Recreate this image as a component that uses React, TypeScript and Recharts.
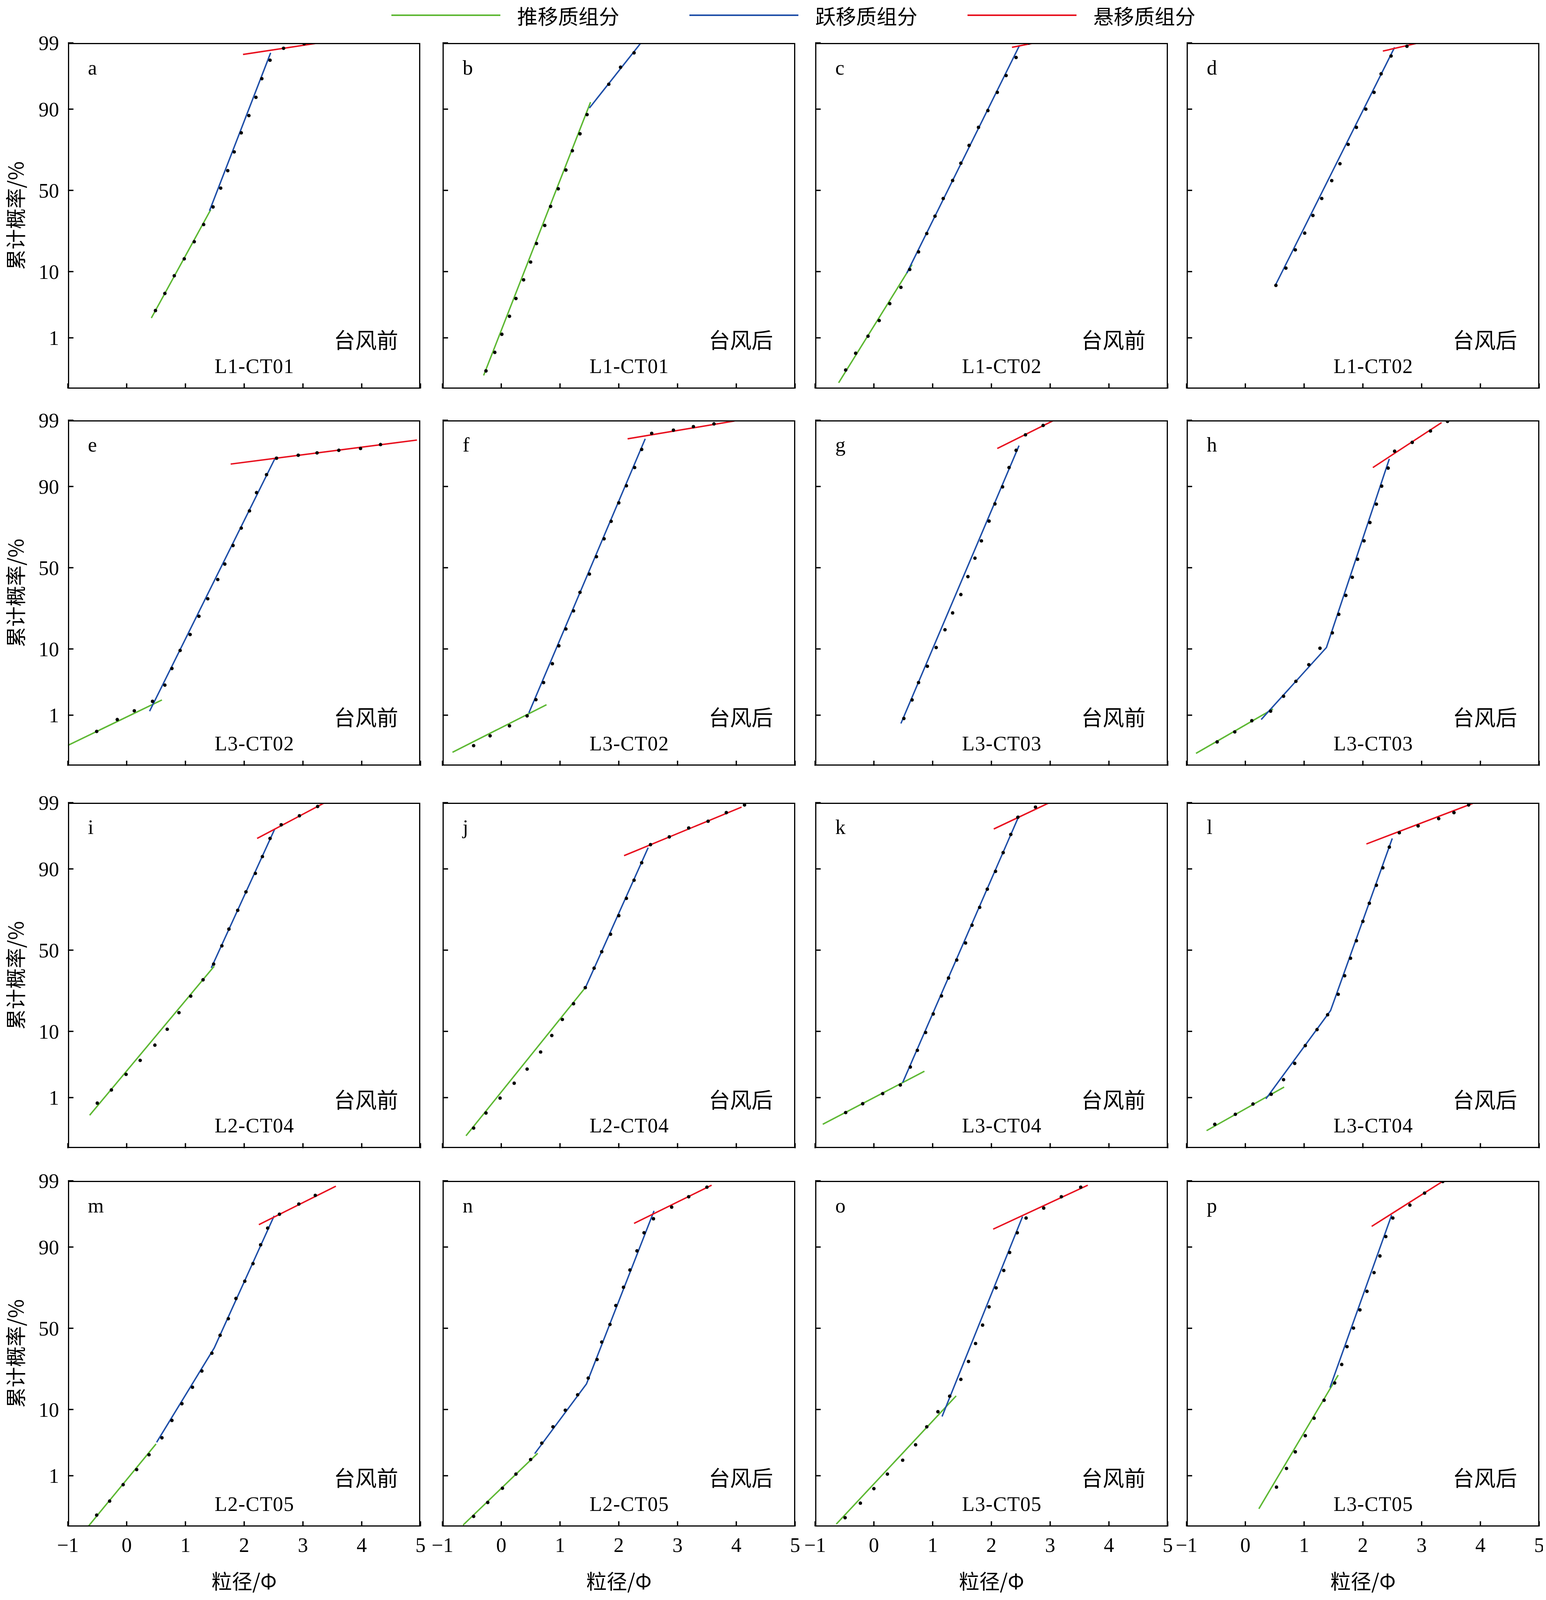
import React from 'react';
import { ComposedChart, Scatter, XAxis, YAxis } from 'recharts';

type P = [number, number]; // [phi, cumulative %]

// ---- panel data: points, then fitted green / blue / red segments ----
const aPoints: P[] = [[0.49, 2.9], [0.65, 5.2], [0.81, 8.9], [0.98, 14], [1.15, 20.9], [1.31, 29.5], [1.47, 39.7], [1.6, 51.4], [1.72, 62.2], [1.83, 72.8], [1.95, 81.8], [2.08, 88.1], [2.2, 92.9], [2.3, 96.1], [2.44, 98], [2.67, 98.75], [3.02, 98.97]];
const aGreen: P[] = [[0.42, 2.2], [1.43, 38]];
const aBlue: P[] = [[1.41, 37.4], [2.45, 98.5]];
const aRed: P[] = [[1.98, 98.4], [3.41, 99.05]];

const bPoints: P[] = [[-0.26, 0.22], [-0.11, 0.53], [0.01, 1.16], [0.14, 2.35], [0.25, 4.4], [0.38, 7.9], [0.5, 12.9], [0.6, 20.1], [0.74, 29], [0.84, 40], [0.97, 51], [1.1, 62.6], [1.21, 73.4], [1.34, 81.4], [1.46, 88.4], [1.83, 95.3], [2.03, 97.4], [2.26, 98.5]];
const bGreen: P[] = [[-0.3, 0.175], [1.52, 91.8]];
const bBlue: P[] = [[1.5, 90.3], [2.41, 99.1]];
const bRed: P[] = [];

const cPoints: P[] = [[-0.48, 0.23], [-0.31, 0.51], [-0.1, 1.07], [0.09, 2.0], [0.27, 3.7], [0.46, 6.3], [0.61, 10.6], [0.76, 16.6], [0.9, 24.8], [1.04, 34.2], [1.18, 44.9], [1.34, 56.2], [1.48, 66.6], [1.62, 76.1], [1.78, 84], [1.94, 89.6], [2.1, 93.9], [2.25, 96.5], [2.42, 98.2], [2.64, 99]];
const cGreen: P[] = [[-0.6, 0.12], [0.65, 12.1]];
const cBlue: P[] = [[0.56, 9.6], [2.48, 98.9]];
const cRed: P[] = [[2.35, 98.8], [2.95, 99.1]];

const dPoints: P[] = [[0.52, 6.7], [0.69, 11], [0.85, 17.4], [1.01, 25], [1.15, 34.6], [1.3, 44.9], [1.47, 56.1], [1.61, 66.3], [1.75, 76.6], [1.89, 84], [2.05, 90], [2.19, 93.9], [2.31, 96.7], [2.48, 98.3], [2.75, 98.85], [3.03, 99.05]];
const dGreen: P[] = [];
const dBlue: P[] = [[0.51, 6.7], [2.54, 98.8]];
const dRed: P[] = [[2.34, 98.6], [3.13, 99.1]];

const ePoints: P[] = [[-0.51, 0.49], [-0.16, 0.83], [0.13, 1.2], [0.44, 1.75], [0.65, 3.2], [0.77, 5.6], [0.91, 9.6], [1.08, 14.6], [1.23, 22.2], [1.38, 31.2], [1.55, 42.6], [1.67, 52.3], [1.81, 63.7], [1.95, 73.4], [2.09, 81.5], [2.21, 88.2], [2.38, 92.9], [2.55, 95.8], [2.92, 96.2], [3.24, 96.5], [3.61, 96.8], [3.98, 97], [4.32, 97.4]];
const eGreen: P[] = [[-1.01, 0.25], [0.6, 1.85]];
const eBlue: P[] = [[0.39, 1.18], [2.52, 95.7]];
const eRed: P[] = [[1.77, 94.9], [4.94, 97.8]];

const fPoints: P[] = [[-0.47, 0.25], [-0.19, 0.4], [0.14, 0.63], [0.44, 0.97], [0.59, 1.87], [0.72, 3.5], [0.87, 6.5], [0.98, 10.9], [1.1, 16.7], [1.23, 24.8], [1.34, 34.9], [1.5, 46], [1.62, 56.9], [1.75, 67.6], [1.87, 76.8], [2.0, 84.7], [2.13, 90.2], [2.27, 94.3], [2.39, 96.9], [2.56, 98.3], [2.93, 98.5], [3.27, 98.7], [3.62, 98.84]];
const fGreen: P[] = [[-0.83, 0.18], [0.77, 1.53]];
const fBlue: P[] = [[0.47, 1.1], [2.45, 97.9]];
const fRed: P[] = [[2.15, 97.9], [3.97, 98.97]];

const gPoints: P[] = [[0.51, 0.87], [0.65, 1.85], [0.76, 3.5], [0.91, 6.0], [1.06, 10.4], [1.21, 16.4], [1.34, 23.8], [1.48, 33.6], [1.6, 44.4], [1.72, 56], [1.83, 66.4], [1.96, 76.9], [2.06, 84.3], [2.19, 89.9], [2.3, 94.3], [2.42, 96.8], [2.58, 98.2], [2.88, 98.76]];
const gGreen: P[] = [];
const gBlue: P[] = [[0.46, 0.7], [2.47, 97.3]];
const gRed: P[] = [[2.1, 97], [3.15, 99.1]];

const hPoints: P[] = [[-0.48, 0.3], [-0.18, 0.48], [0.11, 0.79], [0.43, 1.18], [0.65, 2.13], [0.86, 3.66], [1.08, 6.3], [1.27, 10.2], [1.48, 15.2], [1.59, 23.1], [1.71, 33.1], [1.82, 44], [1.91, 55.3], [2.02, 66.4], [2.12, 76.2], [2.23, 84.2], [2.32, 90.1], [2.43, 94.2], [2.54, 96.7], [2.84, 97.6], [3.15, 98.45], [3.44, 98.95]];
const hGreen: P[] = [[-0.84, 0.17], [0.47, 1.29]];
const hBlue: P[] = [[0.27, 0.83], [1.38, 10.4], [2.45, 95.7]];
const hRed: P[] = [[2.17, 94.3], [3.34, 98.9]];

const iPoints: P[] = [[-0.5, 0.79], [-0.26, 1.37], [-0.01, 2.5], [0.23, 4.1], [0.48, 6.7], [0.69, 10.6], [0.89, 16.2], [1.09, 23.4], [1.3, 32], [1.48, 41.3], [1.62, 52.7], [1.74, 63], [1.89, 73.5], [2.03, 82.1], [2.19, 88.7], [2.31, 93], [2.44, 96.1], [2.63, 97.6], [2.94, 98.3], [3.25, 98.83]];
const iGreen: P[] = [[-0.63, 0.46], [1.49, 40]];
const iBlue: P[] = [[1.44, 39], [2.52, 97.2]];
const iRed: P[] = [[2.22, 96.1], [3.37, 99]];

const jPoints: P[] = [[-0.47, 0.25], [-0.26, 0.51], [-0.02, 0.98], [0.22, 1.79], [0.44, 3.03], [0.67, 5.4], [0.86, 8.9], [1.04, 13.7], [1.23, 19.9], [1.43, 27.7], [1.58, 38.8], [1.71, 49], [1.86, 59.9], [2.0, 70.7], [2.13, 79.3], [2.26, 86.5], [2.39, 91.6], [2.54, 95.2], [2.86, 96.3], [3.19, 97.3], [3.52, 97.9], [3.83, 98.5], [4.14, 98.9]];
const jGreen: P[] = [[-0.6, 0.17], [1.43, 27.7]];
const jBlue: P[] = [[1.43, 27.5], [2.5, 94.7]];
const jRed: P[] = [[2.09, 93.2], [4.09, 98.8]];

const kPoints: P[] = [[-0.48, 0.52], [-0.19, 0.77], [0.15, 1.18], [0.45, 1.67], [0.62, 3.26], [0.74, 5.7], [0.88, 9.7], [1.01, 15.7], [1.15, 23.5], [1.27, 33], [1.41, 43.8], [1.56, 54.5], [1.67, 65.3], [1.8, 75], [1.93, 83.2], [2.07, 89.3], [2.2, 93.8], [2.33, 96.6], [2.45, 98.2], [2.75, 98.8]];
const kGreen: P[] = [[-0.87, 0.3], [0.86, 2.8]];
const kBlue: P[] = [[0.49, 1.84], [2.47, 98.3]];
const kRed: P[] = [[2.04, 97.2], [3.04, 99.06]];

const lPoints: P[] = [[-0.52, 0.3], [-0.17, 0.48], [0.13, 0.76], [0.44, 1.15], [0.65, 2.05], [0.84, 3.7], [1.02, 6.6], [1.22, 10.5], [1.4, 15.4], [1.58, 24.3], [1.69, 34.3], [1.79, 44.9], [1.89, 55.9], [2.0, 67.5], [2.11, 77], [2.23, 84.7], [2.34, 90.3], [2.45, 94.8], [2.62, 96.8], [2.94, 97.5], [3.29, 98.1], [3.55, 98.5], [3.8, 98.9]];
const lGreen: P[] = [[-0.66, 0.22], [0.66, 1.54]];
const lBlue: P[] = [[0.35, 0.95], [1.45, 17], [2.5, 96.1]];
const lRed: P[] = [[2.06, 95.3], [3.87, 98.97]];

const mPoints: P[] = [[-0.51, 0.16], [-0.29, 0.32], [-0.06, 0.68], [0.17, 1.29], [0.38, 2.3], [0.6, 4.2], [0.77, 7.3], [0.94, 11.7], [1.12, 17.6], [1.28, 25], [1.45, 34.7], [1.59, 45.6], [1.73, 56], [1.86, 68.1], [2.01, 77.1], [2.15, 84.6], [2.28, 90.6], [2.4, 94.3], [2.6, 96.4], [2.93, 97.5], [3.21, 98.2]];
const mGreen: P[] = [[-0.65, 0.09], [0.5, 3.4]];
const mBlue: P[] = [[0.51, 3.6], [1.49, 37.8], [2.51, 96.2]];
const mRed: P[] = [[2.25, 94.9], [3.56, 98.75]];

const nPoints: P[] = [[-0.47, 0.15], [-0.23, 0.3], [0.02, 0.58], [0.25, 1.07], [0.5, 1.92], [0.69, 3.5], [0.88, 6.0], [1.09, 9.8], [1.3, 14.7], [1.48, 21.6], [1.63, 31.1], [1.71, 41.4], [1.85, 52.4], [1.95, 64], [2.08, 74.1], [2.19, 82.1], [2.31, 88.9], [2.43, 93.4], [2.59, 95.8], [2.9, 97.2], [3.19, 98.1], [3.5, 98.7]];
const nGreen: P[] = [[-0.65, 0.095], [0.62, 2.43]];
const nBlue: P[] = [[0.57, 2.4], [1.45, 19], [2.6, 96.8]];
const nRed: P[] = [[2.26, 95.1], [3.58, 98.8]];

const oPoints: P[] = [[-0.49, 0.14], [-0.23, 0.29], [0.0, 0.57], [0.23, 1.07], [0.49, 1.87], [0.71, 3.3], [0.9, 6.0], [1.09, 9.4], [1.29, 14.2], [1.48, 21], [1.61, 30], [1.73, 40.5], [1.85, 52], [1.96, 63.2], [2.08, 73.8], [2.21, 81.9], [2.31, 88.4], [2.44, 93.4], [2.59, 95.9], [2.89, 97.1], [3.19, 98.1], [3.52, 98.7]];
const oGreen: P[] = [[-0.64, 0.1], [1.4, 14.3]];
const oBlue: P[] = [[1.16, 8.2], [2.53, 96.1]];
const oRed: P[] = [[2.03, 94.1], [3.64, 98.8]];

const pPoints: P[] = [[0.53, 0.61], [0.7, 1.35], [0.85, 2.56], [1.02, 4.5], [1.17, 7.8], [1.34, 12.8], [1.52, 19.4], [1.64, 28.4], [1.73, 38.6], [1.84, 50.1], [1.95, 61.4], [2.07, 72], [2.19, 81], [2.29, 87.3], [2.39, 92.6], [2.51, 95.9], [2.8, 97.4], [3.05, 98.35], [3.36, 98.97]];
const pGreen: P[] = [[0.23, 0.22], [1.58, 23]];
const pBlue: P[] = [[1.44, 17.5], [2.49, 96.3]];
const pRed: P[] = [[2.15, 94.6], [3.38, 99.01]];

const panelLetters = ['a', 'b', 'c', 'd', 'e', 'f', 'g', 'h', 'i', 'j', 'k', 'l', 'm', 'n', 'o', 'p'];
const sampleNames = ['L1-CT01', 'L1-CT01', 'L1-CT02', 'L1-CT02', 'L3-CT02', 'L3-CT02', 'L3-CT03', 'L3-CT03', 'L2-CT04', 'L2-CT04', 'L3-CT04', 'L3-CT04', 'L2-CT05', 'L2-CT05', 'L3-CT05', 'L3-CT05'];
const periods = ['台风前', '台风后'];
const xTicks = [-1, 0, 1, 2, 3, 4, 5];
const yTicks = [1, 10, 50, 90, 99];
const legendNames = ['推移质组分', '跃移质组分', '悬移质组分'];

const panels = [
  [aPoints, aGreen, aBlue, aRed], [bPoints, bGreen, bBlue, bRed], [cPoints, cGreen, cBlue, cRed], [dPoints, dGreen, dBlue, dRed],
  [ePoints, eGreen, eBlue, eRed], [fPoints, fGreen, fBlue, fRed], [gPoints, gGreen, gBlue, gRed], [hPoints, hGreen, hBlue, hRed],
  [iPoints, iGreen, iBlue, iRed], [jPoints, jGreen, jBlue, jRed], [kPoints, kGreen, kBlue, kRed], [lPoints, lGreen, lBlue, lRed],
  [mPoints, mGreen, mBlue, mRed], [nPoints, nGreen, nBlue, nRed], [oPoints, oGreen, oBlue, oRed], [pPoints, pGreen, pBlue, pRed],
];

const GREEN = '#5db833';
const BLUE = '#1f4fa8';
const RED = '#e8101e';
const SERIF = '"Liberation Serif", "Times New Roman", serif';
const CJK = '"Noto Sans CJK SC", sans-serif';

// page size: follow the real viewport, laid out in reference units (1390 x 1565)
const VW = (typeof window !== 'undefined' && window.innerWidth) || 3958;
const VH = (typeof window !== 'undefined' && window.innerHeight) || 4465;
const SX = VW / 1390;
const SY = VH / 1565;
const S = Math.min(SX, SY);

// inverse normal CDF (Acklam) — probability-paper scale
function probit(pct: number): number {
  const p = pct / 100;
  const a = [-39.69683028665376, 220.9460984245205, -275.9285104469687, 138.357751867269, -30.66479806614716, 2.506628277459239];
  const b = [-54.47609879822406, 161.5858368580409, -155.6989798598866, 66.80131188771972, -13.28068155288572];
  const c = [-0.007784894002430293, -0.3223964580411365, -2.400758277161838, -2.549732539343734, 4.374664141464968, 2.938163982698783];
  const d = [0.007784695709041462, 0.3224671290700398, 2.445134137142996, 3.754408661907416];
  const pl = 0.02425;
  if (p < pl) {
    const q = Math.sqrt(-2 * Math.log(p));
    return (((((c[0] * q + c[1]) * q + c[2]) * q + c[3]) * q + c[4]) * q + c[5]) / ((((d[0] * q + d[1]) * q + d[2]) * q + d[3]) * q + 1);
  }
  if (p > 1 - pl) {
    const q = Math.sqrt(-2 * Math.log(1 - p));
    return -(((((c[0] * q + c[1]) * q + c[2]) * q + c[3]) * q + c[4]) * q + c[5]) / ((((d[0] * q + d[1]) * q + d[2]) * q + d[3]) * q + 1);
  }
  const q = p - 0.5;
  const r = q * q;
  return (((((a[0] * r + a[1]) * r + a[2]) * r + a[3]) * r + a[4]) * r + a[5]) * q / (((((b[0] * r + b[1]) * r + b[2]) * r + b[3]) * r + b[4]) * r + 1);
}

const toXY = (pts: P[]) => pts.map(([x, p]) => ({ x, y: probit(p) }));

const COL_LEFT = [61, 398, 733, 1067];
const ROW_TOP = [42, 411, 785, 1155];
const PW = 317;
const PH = 338;
const ML = 60, MT = 16, MR = 6, MB = 40;
const Y_MIN = probit(99) - PH / 62;

const NoShape = () => <g />;

function Panel({ idx }: { idx: number }) {
  const row = Math.floor(idx / 4);
  const col = idx % 4;
  const [pts, green, blue, red] = panels[idx];
  const showX = row === 3;
  const showY = col === 0;
  const fs = 20 * S;
  const lw = 1.3 * S;

  const xTick = (props: any) => {
    const { x, payload } = props;
    const y = (MT + PH) * SY;
    return (
      <g>
        <line x1={x} x2={x} y1={y} y2={y - 5 * SY} stroke="#000" strokeWidth={lw} />
        {showX && (
          <text x={x} y={y + 25 * SY} textAnchor="middle" fontFamily={SERIF} fontSize={fs} fill="#000">
            {payload.value < 0 ? '\u2212' + Math.abs(payload.value) : payload.value}
          </text>
        )}
      </g>
    );
  };
  const yTick = (props: any) => {
    const { y, payload } = props;
    const x = ML * SX;
    const label = yTicks.find((t) => Math.abs(probit(t) - payload.value) < 1e-6);
    return (
      <g>
        <line x1={x} x2={x + 5 * SX} y1={y} y2={y} stroke="#000" strokeWidth={lw} />
        {showY && (
          <text x={x - 8 * SX} y={y + 7 * S} textAnchor="end" fontFamily={SERIF} fontSize={fs} fill="#000">
            {label}
          </text>
        )}
      </g>
    );
  };

  const w = (ML + PW + MR) * SX;
  const h = (MT + PH + MB) * SY;
  return (
    <div style={{ position: 'absolute', left: (COL_LEFT[col] - ML) * SX, top: (ROW_TOP[row] - MT) * SY, width: w, height: h }}>
      <ComposedChart width={w} height={h} margin={{ top: MT * SY, left: 0, right: MR * SX, bottom: 0 }}>
        <XAxis type="number" dataKey="x" domain={[-1, 5]} ticks={xTicks} allowDataOverflow axisLine={false} tickLine={false} height={MB * SY} tick={xTick} interval={0} />
        <YAxis type="number" dataKey="y" domain={[Y_MIN, probit(99)]} ticks={yTicks.map(probit)} allowDataOverflow axisLine={false} tickLine={false} width={ML * SX} tick={yTick} interval={0} />
        {green.length > 0 && <Scatter data={toXY(green)} line={{ stroke: GREEN, strokeWidth: 1.4 * S }} shape={NoShape} isAnimationActive={false} />}
        {blue.length > 0 && <Scatter data={toXY(blue)} line={{ stroke: BLUE, strokeWidth: 1.4 * S }} shape={NoShape} isAnimationActive={false} />}
        {red.length > 0 && <Scatter data={toXY(red)} line={{ stroke: RED, strokeWidth: 1.4 * S }} shape={NoShape} isAnimationActive={false} />}
        <Scatter data={toXY(pts)} fill="#000" shape={(p: any) => <circle cx={p.cx} cy={p.cy} r={1.7 * S} fill="#000" />} isAnimationActive={false} />
      </ComposedChart>
      <div style={{ position: 'absolute', left: ML * SX, top: MT * SY, width: PW * SX, height: PH * SY, border: `${1.4 * S}px solid #000`, boxSizing: 'border-box', pointerEvents: 'none' }} />
      <div style={{ position: 'absolute', left: (ML + 18) * SX, top: (MT + 14) * SY, fontFamily: SERIF, fontSize: fs, lineHeight: 1 }}>{panelLetters[idx]}</div>
      <div style={{ position: 'absolute', right: (MR + 20) * SX, top: (MT + 279) * SY, fontFamily: CJK, fontSize: 21 * S, lineHeight: 1 }}>{periods[col % 2]}</div>
      <div style={{ position: 'absolute', left: (ML + 132) * SX, top: (MT + 306) * SY, fontFamily: SERIF, fontSize: fs, lineHeight: 1, letterSpacing: 0.5 * S }}>{sampleNames[idx]}</div>
    </div>
  );
}

export default function App() {
  const legendColors = [GREEN, BLUE, RED];
  const legendX = [352, 620, 870];
  return (
    <div style={{ position: 'relative', margin: -8, width: VW, height: VH, background: '#fff', overflow: 'hidden' }}>
      {legendNames.map((name, i) => (
        <div key={name} style={{ position: 'absolute', left: legendX[i] * SX, top: 4 * SY, height: 22 * SY, display: 'flex', alignItems: 'center' }}>
          <div style={{ width: 98 * SX, height: 1.4 * S, background: legendColors[i] }} />
          <span style={{ marginLeft: 15 * SX, fontFamily: CJK, fontSize: 20 * S, lineHeight: 1.2 }}>{name}</span>
        </div>
      ))}
      {panels.map((_, i) => <Panel key={i} idx={i} />)}
      {ROW_TOP.map((t) => (
        <div key={t} style={{ position: 'absolute', left: 3 * SX, top: (t + PH / 2) * SY, transform: 'translateY(-50%) rotate(180deg)', writingMode: 'vertical-rl', textOrientation: 'sideways', fontFamily: CJK, fontSize: 20 * S, whiteSpace: 'nowrap', lineHeight: 1.1 }}>
          累计概率/%
        </div>
      ))}
      {COL_LEFT.map((l) => (
        <div key={l} style={{ position: 'absolute', left: (l + PW / 2) * SX, top: 1546 * SY, transform: 'translate(-50%, -50%)', fontFamily: CJK, fontSize: 20 * S, whiteSpace: 'nowrap', lineHeight: 1.1 }}>
          粒径/Φ
        </div>
      ))}
    </div>
  );
}
